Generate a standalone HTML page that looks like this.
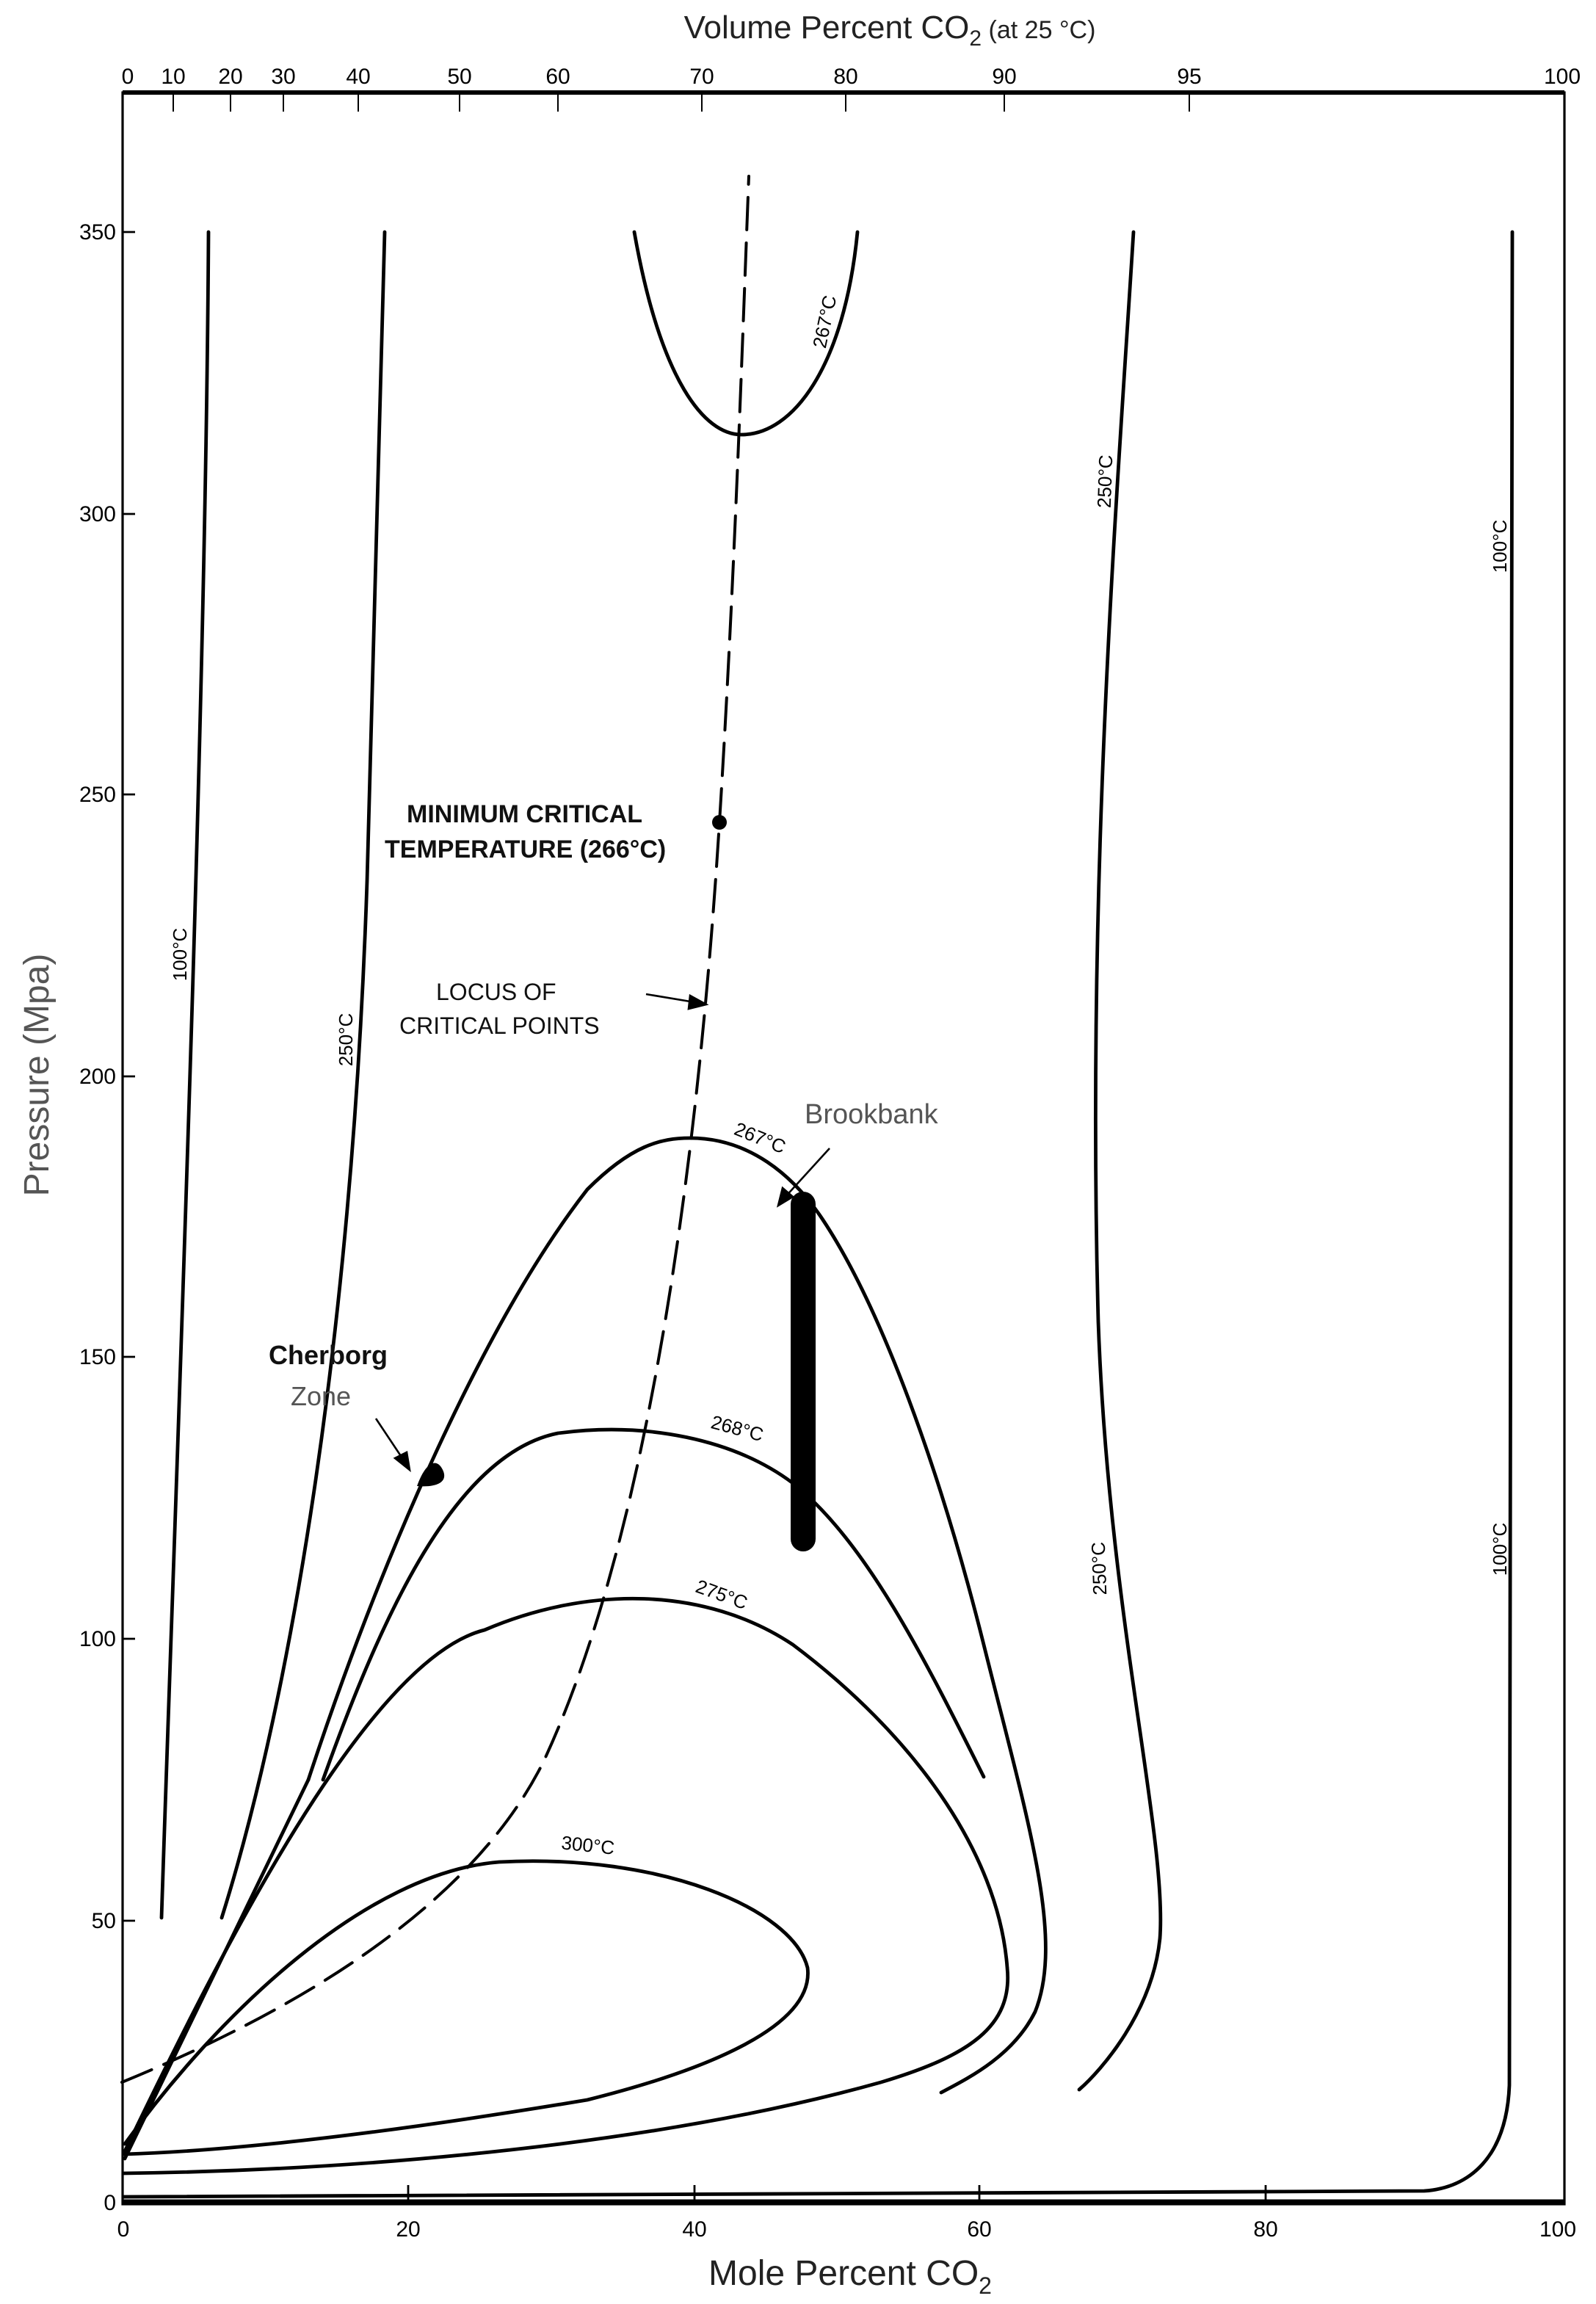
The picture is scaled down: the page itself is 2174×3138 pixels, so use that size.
<!DOCTYPE html>
<html><head><meta charset="utf-8"><style>html,body{margin:0;padding:0;background:#fff}svg{display:block}</style></head>
<body>
<svg width="2174" height="3138" viewBox="0 0 1087 1569" xmlns="http://www.w3.org/2000/svg" font-family="Liberation Sans, sans-serif">
<rect width="1087" height="1569" fill="#fff"/>
<rect x="83.5" y="63" width="982" height="1438" fill="none" stroke="#000" stroke-width="1.6"/>
<line x1="83.5" y1="63" x2="1065.5" y2="63" stroke="#000" stroke-width="3"/>
<line x1="83.5" y1="1499" x2="1065.5" y2="1499" stroke="#000" stroke-width="2.5"/>
<g stroke="#000" stroke-width="1">
<line x1="118" y1="63" x2="118" y2="76"/><line x1="157" y1="63" x2="157" y2="76"/><line x1="193" y1="63" x2="193" y2="76"/><line x1="244" y1="63" x2="244" y2="76"/><line x1="313" y1="63" x2="313" y2="76"/><line x1="380" y1="63" x2="380" y2="76"/><line x1="478" y1="63" x2="478" y2="76"/><line x1="576" y1="63" x2="576" y2="76"/><line x1="684" y1="63" x2="684" y2="76"/><line x1="810" y1="63" x2="810" y2="76"/>
</g>
<g font-family="Liberation Sans Narrow, Liberation Sans, sans-serif" font-size="15" text-anchor="middle">
<text x="87" y="57">0</text><text x="118" y="57">10</text><text x="157" y="57">20</text><text x="193" y="57">30</text><text x="244" y="57">40</text><text x="313" y="57">50</text><text x="380" y="57">60</text><text x="478" y="57">70</text><text x="576" y="57">80</text><text x="684" y="57">90</text><text x="810" y="57">95</text><text x="1064" y="57">100</text>
</g>
<text x="606" y="26" font-size="22" text-anchor="middle" fill="#222">Volume Percent CO<tspan font-size="15" dy="5">2</tspan><tspan font-size="17" dy="-5"> (at 25 °C)</tspan></text>
<g stroke="#000" stroke-width="1.4">
<line x1="83" y1="158" x2="92" y2="158"/><line x1="83" y1="350" x2="92" y2="350"/><line x1="83" y1="541" x2="92" y2="541"/><line x1="83" y1="733" x2="92" y2="733"/><line x1="83" y1="924" x2="92" y2="924"/><line x1="83" y1="1116" x2="92" y2="1116"/><line x1="83" y1="1308" x2="92" y2="1308"/>
<line x1="278" y1="1500" x2="278" y2="1488"/><line x1="473" y1="1500" x2="473" y2="1488"/><line x1="667" y1="1500" x2="667" y2="1488"/><line x1="862" y1="1500" x2="862" y2="1488"/>
</g>
<g font-family="Liberation Sans Narrow, Liberation Sans, sans-serif" font-size="15" text-anchor="end">
<text x="79" y="163">350</text><text x="79" y="355">300</text><text x="79" y="546">250</text><text x="79" y="738">200</text><text x="79" y="929">150</text><text x="79" y="1121">100</text><text x="79" y="1313">50</text><text x="79" y="1505">0</text>
</g>
<g font-family="Liberation Sans Narrow, Liberation Sans, sans-serif" font-size="15" text-anchor="middle">
<text x="84" y="1523">0</text><text x="278" y="1523">20</text><text x="473" y="1523">40</text><text x="667" y="1523">60</text><text x="862" y="1523">80</text><text x="1061" y="1523">100</text>
</g>
<text x="579" y="1556" font-size="24" text-anchor="middle" fill="#222">Mole Percent CO<tspan font-size="16" dy="6">2</tspan></text>
<text transform="translate(33,732) rotate(-90)" font-size="24" text-anchor="middle" fill="#555">Pressure (Mpa)</text>
<g fill="none" stroke="#000" stroke-width="2.4" stroke-linecap="round">
<path d="M110,1306 C120,1000 140,500 142,158"/>
<path d="M151,1306 C200,1150 240,900 250,600 C255,400 260,250 262,158"/>
<path d="M432,158 C450,260 480,296 505,296 C540,296 575,250 584,158"/>
<path d="M772,158 C760,350 740,600 748,900 C755,1100 795,1250 790,1320 C785,1370 750,1410 735,1423"/>
<path d="M1030,158 L1028,1420 C1026,1470 1000,1490 970,1492 L84,1496"/>
<path d="M210,1212 C260,1060 330,900 400,810 C430,780 450,775 470,775 C510,775 540,800 560,830 C600,890 640,1000 670,1120 C700,1240 725,1320 705,1370 C690,1400 660,1415 641,1425"/>
<path d="M220,1212 C260,1100 310,990 380,976 C440,968 500,980 540,1010 C590,1050 630,1130 670,1210"/>
<path d="M85,1465 C150,1330 250,1130 330,1110 C400,1080 480,1080 540,1120 C620,1180 680,1260 686,1340 C690,1380 660,1400 600,1418 C450,1460 250,1478 84,1480"/>
<path d="M85,1460 C150,1370 250,1275 340,1268 C450,1262 540,1300 550,1340 C555,1380 480,1410 400,1430 C250,1455 150,1465 84,1467"/>
<path d="M85,1470 L210,1212"/>
<path d="M83,1418 C200,1370 320,1300 370,1200 C440,1050 475,800 490,560 C500,400 505,250 510,120" stroke-width="2" stroke-dasharray="22,9"/>
</g>
<line x1="547" y1="820" x2="547" y2="1048" stroke="#000" stroke-width="17" stroke-linecap="round"/>
<path d="M284,1012 C290,995 298,992 302,1002 C305,1010 296,1013 284,1012 Z" fill="#000"/>
<circle cx="490" cy="560" r="5" fill="#000"/>
<g font-size="17" font-weight="bold" fill="#111">
<text x="277" y="560">MINIMUM CRITICAL</text><text x="262" y="584">TEMPERATURE (266°C)</text>
</g>
<g font-size="16" fill="#111">
<text x="297" y="681">LOCUS OF</text><text x="272" y="704">CRITICAL POINTS</text>
</g>
<g stroke="#000" stroke-width="1.3" fill="#000">
<line x1="440" y1="677" x2="476" y2="683"/><path d="M481,684 L470,678 L469,687 Z"/>
<line x1="565" y1="782" x2="534" y2="816"/><path d="M530,821 L533,809 L540,815 Z"/>
<line x1="256" y1="966" x2="276" y2="996"/><path d="M279,1001 L269,993 L277,989 Z"/>
</g>
<text x="548" y="765" font-size="19" fill="#555">Brookbank</text>
<text x="183" y="929" font-size="18" font-weight="bold" fill="#111">Cherborg</text>
<text x="198" y="957" font-size="18" fill="#555">Zone</text>
<g font-family="Liberation Sans Narrow, Liberation Sans, sans-serif" font-size="13" text-anchor="middle" fill="#000">
<text transform="translate(127,650) rotate(-90)">100°C</text>
<text transform="translate(240,708) rotate(-90)">250°C</text>
<text transform="translate(566,220) rotate(-78)">267°C</text>
<text transform="translate(757,328) rotate(-88)">250°C</text>
<text transform="translate(1026,372) rotate(-90)">100°C</text>
<text transform="translate(753,1068) rotate(-92)">250°C</text>
<text transform="translate(1026,1055) rotate(-90)">100°C</text>
<text transform="translate(516,779) rotate(22)">267°C</text>
<text transform="translate(501,977) rotate(15)">268°C</text>
<text transform="translate(490,1090) rotate(20)">275°C</text>
<text transform="translate(400,1261) rotate(6)">300°C</text>
</g>
</svg>
</body></html>
